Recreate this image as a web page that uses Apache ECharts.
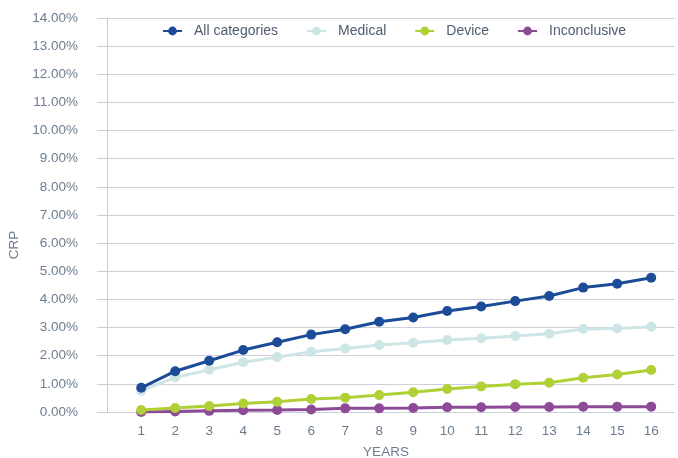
<!DOCTYPE html>
<html>
<head>
<meta charset="utf-8">
<script src="https://cdn.jsdelivr.net/npm/echarts@6/dist/echarts.min.js"></script>
<style>html,body{margin:0;padding:0;background:#fff}#c{width:678px;height:458px}</style>
</head>
<body>
<div id="c"></div>
<script>
const years = [1,2,3,4,5,6,7,8,9,10,11,12,13,14,15,16];
const allCategories = [0.86,1.45,1.82,2.20,2.48,2.75,2.94,3.21,3.36,3.59,3.75,3.94,4.12,4.42,4.56,4.77];
const medical = [0.75,1.23,1.50,1.77,1.95,2.14,2.26,2.38,2.46,2.56,2.62,2.70,2.78,2.95,2.97,3.03];
const device = [0.07,0.14,0.21,0.30,0.36,0.46,0.51,0.60,0.70,0.82,0.91,0.99,1.04,1.22,1.33,1.49];
const inconclusive = [0.00,0.02,0.04,0.06,0.07,0.09,0.13,0.13,0.14,0.17,0.17,0.18,0.18,0.19,0.19,0.19];
const seriesNames = ['All categories','Medical','Device','Inconclusive'];
const colors = ['#1c4c98','#cde5e4','#b0d136','#8c4a97'];

const allValues = [allCategories, medical, device, inconclusive];
const labelColor = '#6c7d8f';
const chart = echarts.init(document.getElementById('c'), null, {renderer:'canvas'});
chart.setOption({
  animation:false,
  textStyle:{fontFamily:'Liberation Sans, Arial, sans-serif'},
  legend:{
    top:24, left:162, padding:0, itemGap:28, itemWidth:19, itemHeight:11,
    data:seriesNames,
    textStyle:{color:'#4e5e70', fontSize:14, padding:[0,0,0,7]}
  },
  grid:{left:97, right:3, top:18, bottom:46, containLabel:false, outerBoundsMode:'none'},
  xAxis:{
    type:'value', min:-0.3, max:16.7,
    name:'YEARS', nameLocation:'middle', nameGap:33,
    nameTextStyle:{color:labelColor, fontSize:13.5},
    axisLine:{show:false}, axisTick:{show:false}, splitLine:{show:false},
    axisLabel:{customValues:years, color:labelColor, fontSize:13.5, margin:12}
  },
  yAxis:{
    type:'value', min:0, max:14, interval:1,
    name:'CRP', nameLocation:'middle', nameGap:74, nameRotate:90,
    nameTextStyle:{color:labelColor, fontSize:13.5, padding:[0,60,0,0]},
    axisLine:{show:true, lineStyle:{color:'#c9c9d9', width:1}},
    axisTick:{show:true, length:6, lineStyle:{color:'#c9c9d9'}},
    splitLine:{show:true, lineStyle:{color:'#cfcfdc', width:1}},
    axisLabel:{color:labelColor, fontSize:13.5, margin:19, formatter:v=>v.toFixed(2)+'%'}
  },
  series: seriesNames.map((n,i)=>({
    name:n, type:'line', symbol:'circle', symbolSize:10,
    data: years.map((y,j)=>[y, allValues[i][j]]),
    itemStyle:{color:colors[i]},
    lineStyle:{color:colors[i], width:3},
    z: 10-i
  }))
});
</script>
</body>
</html>
